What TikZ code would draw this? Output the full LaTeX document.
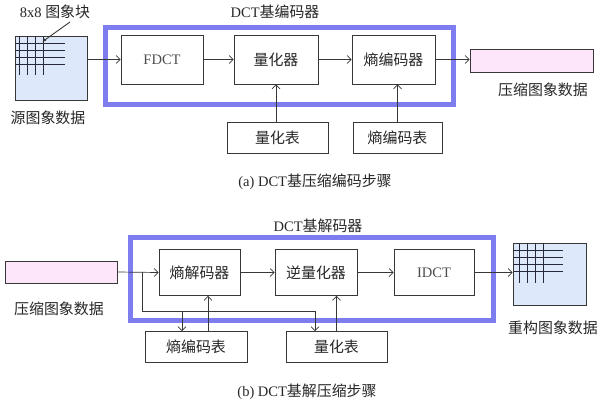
\documentclass[tikz,border=0pt]{standalone}
\usepackage{fontspec}
\setmainfont{Liberation Serif}
\newfontfamily\cjk[Scale=1.03]{Noto Sans CJK SC}
\usetikzlibrary{arrows.meta}
\definecolor{framecol}{RGB}{125,125,240}
\definecolor{imgfill}{RGB}{221,232,250}
\definecolor{bitsfill}{RGB}{253,230,250}
\definecolor{linecol}{RGB}{55,55,55}
\definecolor{gridcol}{RGB}{40,40,60}

\begin{document}
\begin{tikzpicture}[x=1pt, y=-1pt, every node/.style={font=\fontsize{14.5}{17}\selectfont, text=black!85},
	>={Straight Barb[length=4pt, width=8pt]},
	blk/.style={draw=linecol, line width=0.8pt, minimum height=49, inner sep=0pt},
	tab/.style={draw=linecol, line width=0.8pt, minimum height=31, inner sep=0pt},
	frame/.style={draw=framecol, line width=5pt},
	conn/.style={draw=linecol, line width=0.7pt},
	grid/.style={draw=gridcol, line width=1pt}]
	\useasboundingbox (0,0) rectangle (616,407);
	% (a) encoder
	\draw[frame] (105,27) rectangle (453,104);
	\node at (275,12) {DCT{\cjk 基编码器}};
	\node[draw=linecol, fill=imgfill, line width=0.8pt, minimum width=72, minimum height=64, inner sep=0pt] (src) at (51,68) {};
	\foreach \gx in {19,27,35,43} \draw[grid] (\gx,36) -- (\gx,75);
	\foreach \gy in {43,50,57,64} \draw[grid] (15,\gy) -- (65,\gy);
	\node (blklabel) at (55,12) {8x8 {\cjk 图象块}};
	\coordinate (cell) at (42,42);
	\draw[conn, line width=0.9pt, -{Latex[length=4pt]}] (70,22) -- (cell);
	\node (srclabel) at (48,118) {\cjk 源图象数据};
	\node[blk, minimum width=82, text=black!70] (fdct) at (162,59.5) {FDCT};
	\node[blk, minimum width=84] (quant) at (276,59.5) {\cjk 量化器};
	\node[blk, minimum width=83] (entenc) at (393.5,59.5) {\cjk 熵编码器};
	\node[draw=linecol, fill=bitsfill, line width=0.8pt, minimum width=123, minimum height=23, inner sep=0pt] (bitsout) at (531.5,60.5) {};
	\node (bitsoutlabel) at (543,90) {\cjk 压缩图象数据};
	\node[tab, minimum width=101] (qtab) at (277.5,137.5) {\cjk 量化表};
	\node[tab, minimum width=89] (etab) at (397.5,137.5) {\cjk 熵编码表};
	\draw[conn, ->] (src.east |- fdct.west) -- (fdct.west);
	\draw[conn, ->] (fdct) -- (quant);
	\draw[conn, ->] (quant) -- (entenc);
	\draw[conn, ->] (entenc.east) -- (entenc.east -| bitsout.west);
	\draw[conn, ->] (quant.south |- qtab.north) -- (quant.south);
	\draw[conn, ->] (etab.north) -- (etab.north |- entenc.south);
	\node (capa) at (315,182) {(a) DCT{\cjk 基压缩编码步骤}};
	% (b) decoder
	\draw[frame] (130,237) rectangle (493,320);
	\node at (318,226) {DCT{\cjk 基解码器}};
	\node[draw=linecol, fill=bitsfill, line width=0.8pt, minimum width=112, minimum height=22, inner sep=0pt] (bitsin) at (61,272) {};
	\node (bitsinlabel) at (59,309) {\cjk 压缩图象数据};
	\node[blk, minimum width=81, minimum height=46] (entdec) at (199.5,272.5) {\cjk 熵解码器};
	\node[blk, minimum width=82, minimum height=46] (dequant) at (316,272.5) {\cjk 逆量化器};
	\node[blk, minimum width=80, minimum height=46, text=black!70] (idct) at (434,272.5) {IDCT};
	\node[draw=linecol, fill=imgfill, line width=0.8pt, minimum width=73, minimum height=62, inner sep=0pt] (rec) at (549.5,274) {};
	\foreach \gx in {519,527,535,543} \draw[grid] (\gx,243) -- (\gx,283);
	\foreach \gy in {250,257,264,271} \draw[grid] (513,\gy) -- (563,\gy);
	\node (reclabel) at (553,328) {\cjk 重构图象数据};
	\node[tab, minimum width=102] (etab2) at (196,347) {\cjk 熵编码表};
	\node[tab, minimum width=101] (qtab2) at (336.5,347) {\cjk 量化表};
	\coordinate (split) at (142,272);
	\coordinate (turn) at (142,311);
	\coordinate (tap) at (182,311);
	\coordinate (drop) at (315,311);
	\draw[conn, ->] (bitsin.east) -- (entdec.west);
	\draw[conn, ->] (entdec) -- (dequant);
	\draw[conn, ->] (dequant) -- (idct);
	\draw[conn, ->] (idct.east) -- (idct.east -| rec.west);
	\draw[conn, ->] (split) -- (turn) -- (drop) -- (drop |- qtab2.north);
	\draw[conn, ->] (tap) -- (tap |- etab2.north);
	\draw[conn, ->] ([xshift=12]etab2.north) -- ([xshift=12]etab2.north |- entdec.south);
	\draw[conn, ->] (qtab2.north) -- (qtab2.north |- dequant.south);
	\node (capb) at (307,392) {(b) DCT{\cjk 基解压缩步骤}};
\end{tikzpicture}
\end{document}
